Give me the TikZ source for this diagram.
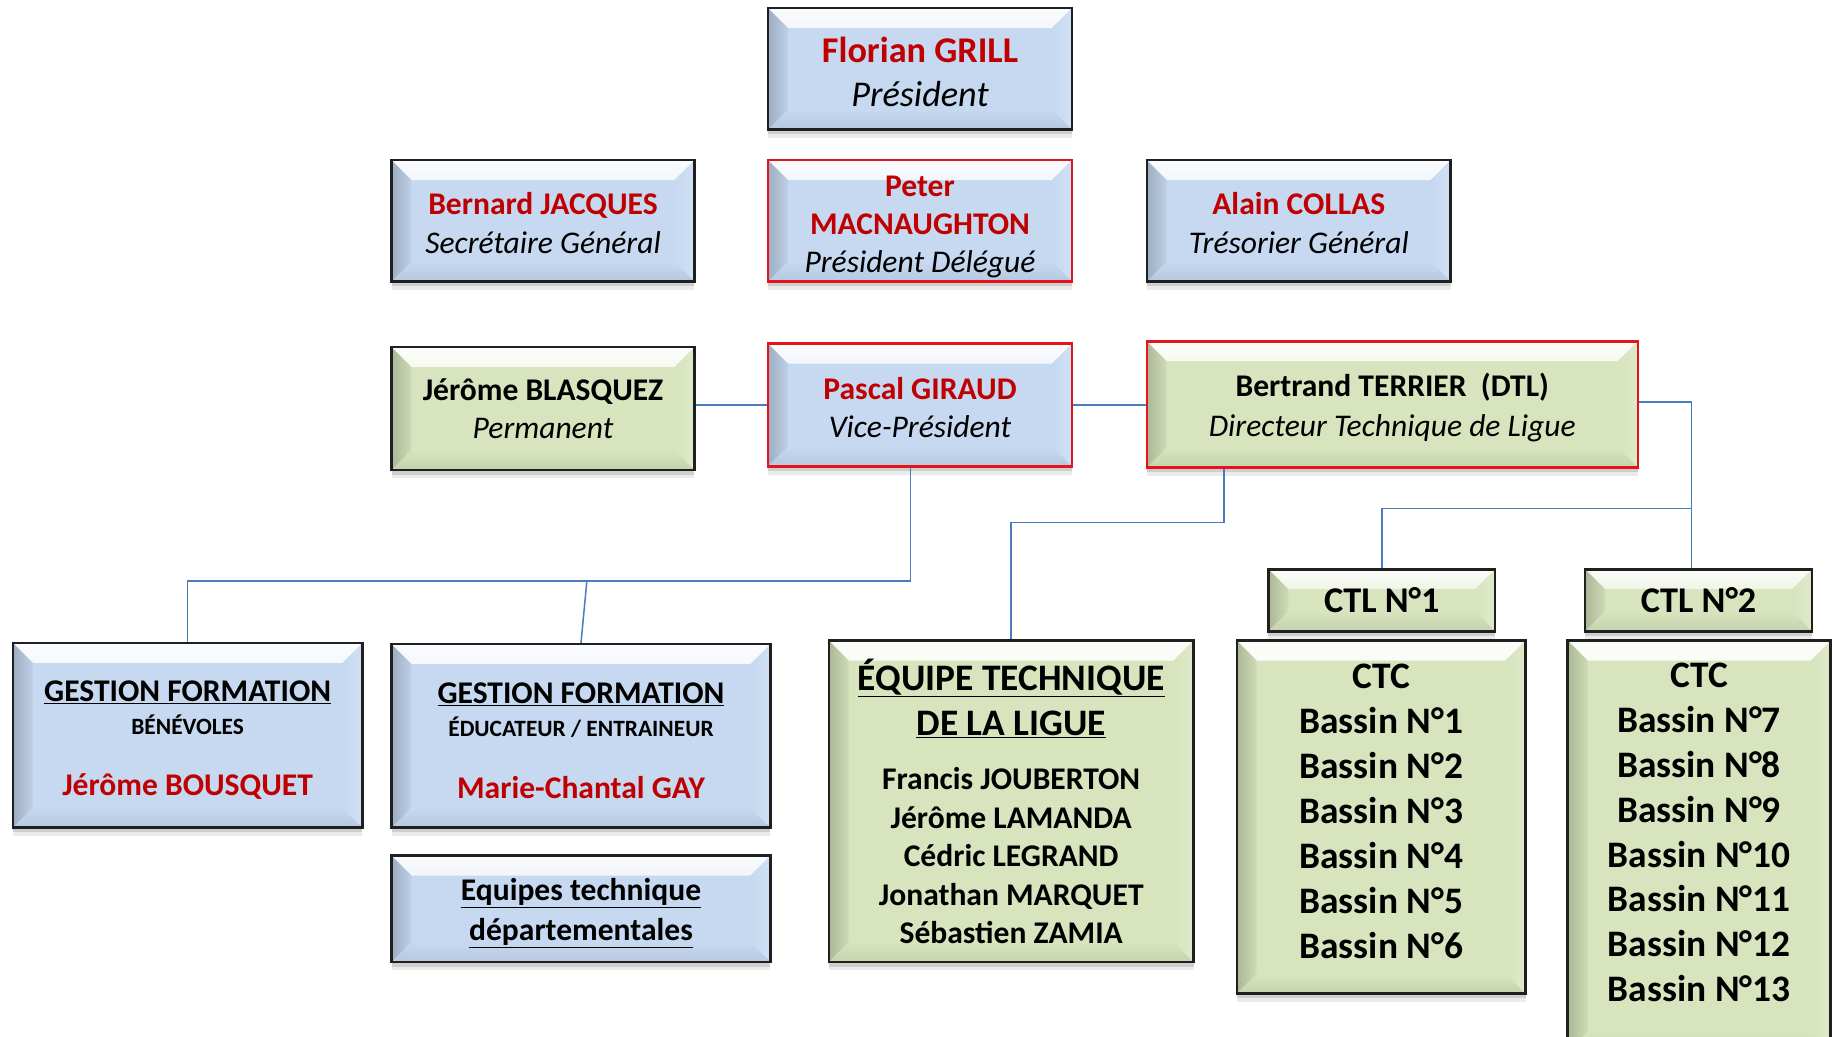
\documentclass[tikz,border=0pt]{standalone}
\usepackage{fontspec}
\setmainfont{Carlito}
\usetikzlibrary{shadows}
\definecolor{bluefill}{HTML}{C6D9F1}
\definecolor{greenfill}{HTML}{D7E4BD}
\definecolor{redline}{HTML}{E3151A}
\definecolor{darkline}{HTML}{1F1F1F}
\definecolor{redtext}{HTML}{C00000}
\definecolor{conncol}{HTML}{4A7EBB}
\newcommand\bvw{17pt}
\newcommand\mybevel[1]{%
  \shade[top color=white!92!#1, bottom color=#1]
    (path picture bounding box.north west) -- (path picture bounding box.north east)
    -- ([xshift=-\bvw,yshift=-\bvw]path picture bounding box.north east)
    -- ([xshift=\bvw,yshift=-\bvw]path picture bounding box.north west) -- cycle;
  \shade[left color=#1!80!black, right color=#1!96!black]
    (path picture bounding box.north west)
    -- ([xshift=\bvw,yshift=-\bvw]path picture bounding box.north west)
    -- ([xshift=\bvw,yshift=\bvw]path picture bounding box.south west)
    -- (path picture bounding box.south west) -- cycle;
  \shade[left color=#1, right color=#1!80!white]
    (path picture bounding box.north east)
    -- ([xshift=-\bvw,yshift=-\bvw]path picture bounding box.north east)
    -- ([xshift=-\bvw,yshift=\bvw]path picture bounding box.south east)
    -- (path picture bounding box.south east) -- cycle;
  \shade[top color=#1, bottom color=#1!92!black]
    (path picture bounding box.south west)
    -- ([xshift=\bvw,yshift=\bvw]path picture bounding box.south west)
    -- ([xshift=-\bvw,yshift=\bvw]path picture bounding box.south east)
    -- (path picture bounding box.south east) -- cycle;
}
\newcommand\rn[1]{{\bfseries\color{redtext}#1}}
\tikzset{
  box/.style={draw=darkline, line width=2.2pt, inner sep=0pt, align=center,
    general shadow={fill=black, opacity=0.08, shadow yshift=-7pt},
    general shadow={fill=black, opacity=0.12, shadow yshift=-4pt}},
  bluebox/.style={box, fill=bluefill, path picture={\mybevel{bluefill}}},
  greenbox/.style={box, fill=greenfill, path picture={\mybevel{greenfill}}},
  redborder/.style={draw=redline},
  link/.style={draw=conncol, line width=1.3pt},
}
\begin{document}
\begin{tikzpicture}[x=1pt, y=-1pt]
\useasboundingbox (0,0) rectangle (1568,887);
\fill[white] (0,0) rectangle (1568,887);
\clip (0,0) rectangle (1568,887);

% row 1
\node[bluebox, minimum width=260pt, minimum height=104pt, font=\fontsize{31}{37}\selectfont]
  (pres) at (787,59) {\rn{Florian GRILL}\rule{0pt}{27pt}\\{\itshape Président}};

% row 2
\node[bluebox, minimum width=259pt, minimum height=104pt, font=\fontsize{27}{33}\selectfont]
  (bern) at (464.5,189) {\rn{Bernard JACQUES}\rule{0pt}{23pt}\\{\itshape Secrétaire Général}};
\node[bluebox, redborder, minimum width=260pt, minimum height=104pt, font=\fontsize{27}{32.5}\selectfont]
  (peter) at (787,189) {\rn{Peter}\rule{0pt}{27pt}\\\rn{MACNAUGHTON}\\{\itshape Président Délégué}};
\node[bluebox, minimum width=260pt, minimum height=104pt, font=\fontsize{27}{33}\selectfont]
  (alain) at (1111,189) {\rn{Alain COLLAS}\rule{0pt}{23pt}\\{\itshape Trésorier Général}};

% row 3
\node[greenbox, minimum width=259pt, minimum height=105pt, font=\fontsize{27}{33}\selectfont]
  (blas) at (464.5,349.5) {{\bfseries Jérôme BLASQUEZ}\\{\itshape Permanent}};
\node[bluebox, redborder, minimum width=260pt, minimum height=105pt, font=\fontsize{27}{33}\selectfont]
  (pascal) at (787,346.5) {\rn{Pascal GIRAUD}\rule{0pt}{23pt}\\{\itshape Vice-Président}};
\node[greenbox, redborder, minimum width=420pt, minimum height=108pt, font=\fontsize{27}{34}\selectfont]
  (bert) at (1191,346) {{\bfseries Bertrand TERRIER~~(DTL)}\rule{0pt}{25pt}\\{\itshape Directeur Technique de Ligue}};

% bottom left
\node[bluebox, minimum width=299pt, minimum height=158pt, font=\fontsize{27}{32}\selectfont]
  (gest1) at (160.5,629) {{\bfseries\underline{GESTION FORMATION}}\rule{0pt}{26pt}\\[-4pt]
   {\fontsize{20}{24}\selectfont\bfseries BÉNÉVOLES}\\[20pt]\rn{Jérôme BOUSQUET}};
\node[bluebox, minimum width=324pt, minimum height=157pt, font=\fontsize{27}{32}\selectfont]
  (gest2) at (497,629.5) {{\bfseries\underline{GESTION FORMATION}}\rule{0pt}{26pt}\\[-4pt]
   {\fontsize{20}{24}\selectfont\bfseries ÉDUCATEUR / ENTRAINEUR}\\[21pt]\rn{Marie-Chantal GAY}};
\node[bluebox, minimum width=324pt, minimum height=91pt, font=\fontsize{27}{34}\selectfont]
  (eqdep) at (497,777.5) {{\bfseries\underline{Equipes technique}}\rule{0pt}{26pt}\\{\bfseries\underline{départementales}}};

% equipe technique
\node[greenbox, minimum width=312pt, minimum height=275pt, font=\fontsize{27}{33}\selectfont\bfseries]
  (eqlig) at (865,685.5) {{\fontsize{32}{38}\selectfont\underline{ÉQUIPE TECHNIQUE}}\\[6pt]
   {\fontsize{32}{38}\selectfont\underline{DE LA LIGUE}}\\[13pt]
   Francis JOUBERTON\\Jérôme LAMANDA\\Cédric LEGRAND\\Jonathan MARQUET\\Sébastien ZAMIA};

% CTL / CTC
\node[greenbox, minimum width=194pt, minimum height=53pt, font=\fontsize{31}{37}\selectfont\bfseries]
  (ctl1) at (1182,513.5) {CTL N°1};
\node[greenbox, minimum width=194pt, minimum height=53pt, font=\fontsize{31}{37}\selectfont\bfseries]
  (ctl2) at (1453,513.5) {CTL N°2};
\node[greenbox, minimum width=247pt, minimum height=302pt, font=\fontsize{32}{38.4}\selectfont\bfseries]
  (ctc1) at (1181.5,699) {CTC\\Bassin N°1\\Bassin N°2\\Bassin N°3\\Bassin N°4\\Bassin N°5\\Bassin N°6\rule[-10pt]{0pt}{0pt}};
\node[greenbox, minimum width=225pt, minimum height=352pt, font=\fontsize{32}{38.4}\selectfont\bfseries]
  (ctc2) at (1453.5,724) {CTC\\Bassin N°7\\Bassin N°8\\Bassin N°9\\Bassin N°10\\Bassin N°11\\Bassin N°12\\Bassin N°13\rule[-24pt]{0pt}{0pt}};

% connectors
\coordinate (j1) at (779,497);
\coordinate (j2) at (502,497);
\coordinate (j3) at (1047,447);
\coordinate (j4) at (1447,344);
\coordinate (j5) at (1447,435);
\draw[link] (blas.east |- pascal.west) -- (pascal.west);
\draw[link] (pascal.east) -- (pascal.east -| bert.west);
\draw[link] (pascal.south -| j1) -- (j1) -- (j1 -| gest1.north) -- (gest1.north);
\draw[link] (j2) -- (gest2.north);
\draw[link] (bert.south -| j3) -- (j3) -- (j3 -| eqlig.north) -- (eqlig.north);
\draw[link] (bert.east |- j4) -- (j4) -- (j4 |- ctl2.north);
\draw[link] (j5) -- (j5 -| ctl1.north) -- (ctl1.north);
\end{tikzpicture}
\end{document}
